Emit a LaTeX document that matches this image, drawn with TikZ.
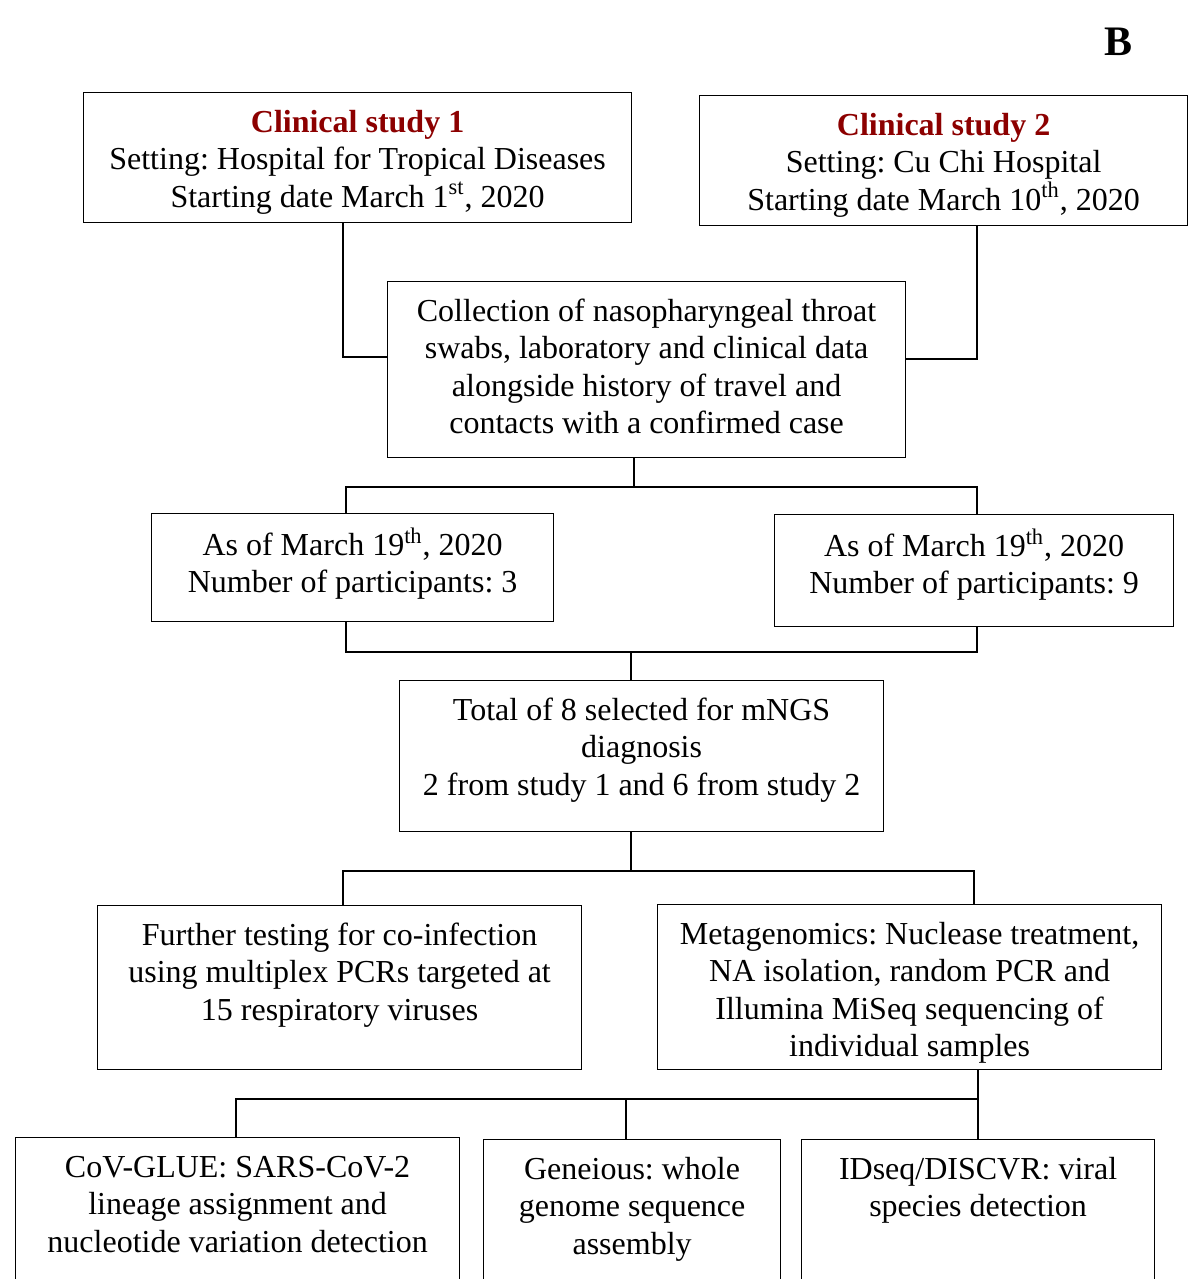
\documentclass[tikz,border=0pt]{standalone}
\usepackage{fontspec}
\setmainfont{Liberation Serif}
\frenchspacing
\definecolor{studyred}{RGB}{140,0,0}
\newcommand{\boxtext}[3]{\parbox[c][#2][t]{#1}{\centering\vspace*{7pt}\strut #3}}

\tikzset{
  flowbox/.style={draw, line width=0.6pt, inner sep=0pt, anchor=north west,
    font=\fontsize{16}{18.6}\selectfont},
  link/.style={line width=0.6pt},
}

\begin{document}
\begin{tikzpicture}[x=0.5pt,y=-0.5pt]
    \clip (0,0) rectangle (1192,1279);
    \node[font=\fontsize{21}{25}\selectfont\bfseries] (B) at (1118,42) {B};

    \node[flowbox] (s1) at (83,92) {\boxtext{274pt}{65pt}{\textcolor{studyred}{\textbf{Clinical study 1}}\\
      Setting: Hospital for Tropical Diseases\\ Starting date March 1\textsuperscript{st}, 2020}};
    \node[flowbox] (s2) at (699,95) {\boxtext{244pt}{65pt}{\textcolor{studyred}{\textbf{Clinical study 2}}\\
      Setting: Cu Chi Hospital\\ Starting date March 10\textsuperscript{th}, 2020}};
    \node[flowbox] (coll) at (387,281) {\boxtext{259pt}{88pt}{Collection of nasopharyngeal throat\\
      swabs, laboratory and clinical data\\ alongside history of travel and\\ contacts with a confirmed case}};
    \node[flowbox] (m1) at (151,513) {\boxtext{201pt}{54pt}{As of March 19\textsuperscript{th}, 2020\\
      Number of participants: 3}};
    \node[flowbox] (m2) at (774,514) {\boxtext{199.5pt}{56pt}{As of March 19\textsuperscript{th}, 2020\\
      Number of participants: 9}};
    \node[flowbox] (tot) at (399,680) {\boxtext{242pt}{75.5pt}{Total of 8 selected for mNGS\\
      diagnosis\\ 2 from study 1 and 6 from study 2}};
    \node[flowbox] (fur) at (97,905) {\boxtext{242pt}{82pt}{Further testing for co-infection\\
      using multiplex PCRs targeted at\\ 15 respiratory viruses}};
    \node[flowbox] (meta) at (657,904) {\boxtext{252pt}{82.5pt}{Metagenomics: Nuclease treatment,\\
      NA isolation, random PCR and\\ Illumina MiSeq sequencing of\\ individual samples}};
    \node[flowbox] (cov) at (15,1137) {\boxtext{222pt}{100pt}{CoV-GLUE: SARS-CoV-2\\
      lineage assignment and\\ nucleotide variation detection}};
    \node[flowbox] (gen) at (483,1139) {\boxtext{148.5pt}{100pt}{Geneious: whole\\
      genome sequence\\ assembly}};
    \node[flowbox] (ids) at (801,1139) {\boxtext{176.5pt}{100pt}{IDseq/DISCVR: viral\\
      species detection}};

    % studies to collection
    \coordinate (k1) at (343,357);
    \coordinate (k2) at (977,359);
    \draw[link] (s1.south -| k1) |- (coll.west |- k1);
    \draw[link] (s2.south -| k2) |- (coll.east |- k2);

    % collection to participants
    \coordinate (k3) at (634,487);
    \coordinate (k3l) at (346,487);
    \coordinate (k3r) at (977,487);
    \draw[link] (coll.south -| k3) -- (k3);
    \draw[link] (m1.north -| k3l) -- (k3l) -- (k3r) -- (m2.north -| k3r);

    % participants to total
    \coordinate (k4) at (631,652);
    \coordinate (k4l) at (346,652);
    \coordinate (k4r) at (977,652);
    \draw[link] (m1.south -| k4l) -- (k4l) -- (k4r) -- (m2.south -| k4r);
    \draw[link] (k4) -- (tot.north -| k4);

    % total to testing
    \coordinate (k5) at (631,871);
    \coordinate (k5l) at (343,871);
    \coordinate (k5r) at (974,871);
    \draw[link] (tot.south -| k5) -- (k5);
    \draw[link] (fur.north -| k5l) -- (k5l) -- (k5r) -- (meta.north -| k5r);

    % metagenomics to analyses
    \coordinate (k6) at (978,1099);
    \coordinate (k6l) at (236,1099);
    \coordinate (k6m) at (626,1099);
    \draw[link] (meta.south -| k6) -- (k6);
    \draw[link] (cov.north -| k6l) -- (k6l) -- (k6);
    \draw[link] (k6m) -- (gen.north -| k6m);
    \draw[link] (k6) -- (ids.north -| k6);
\end{tikzpicture}
\end{document}
